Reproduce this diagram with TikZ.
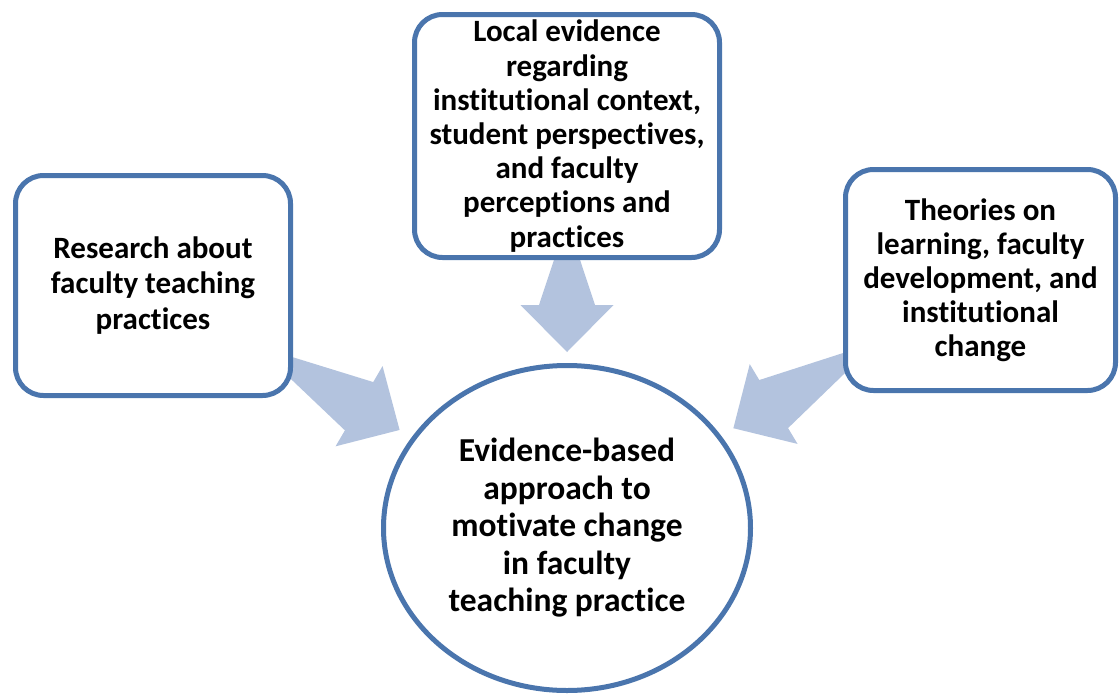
\documentclass[tikz,border=0pt]{standalone}
\usepackage{fontspec}
\setmainfont{Carlito}[Ligatures=NoCommon]
\usetikzlibrary{calc,shapes.geometric}

\definecolor{edgeblue}{HTML}{4A75AD}
\definecolor{flowblue}{HTML}{B3C3DE}

\tikzset{
  srcbox/.style={draw=edgeblue, line width=5pt, rounded corners=28pt,
    fill=white, align=center, inner sep=0pt},
  goal/.style={ellipse, draw=edgeblue, line width=5pt, fill=white,
    align=center, inner sep=0pt},
  flow/.style={fill=flowblue},
}

% broad block arrow from node #1 toward node #2, tip at #3 from #2's centre
\newcommand\blockflow[3]{%
  \coordinate (bf-t) at (#1.center);
  \coordinate (bf-h) at ($(#2.center)!#3!(#1.center)$);
  \coordinate (bf-b) at ($(bf-h)!47pt!(bf-t)$);
  \fill[flow] ($(bf-t)!28pt!90:(bf-h)$) -- ($(bf-b)!28pt!90:(bf-t)$)
    -- ($(bf-b)!46.5pt!90:(bf-t)$) -- (bf-h)
    -- ($(bf-b)!46.5pt!-90:(bf-t)$) -- ($(bf-b)!28pt!-90:(bf-t)$)
    -- ($(bf-t)!28pt!-90:(bf-h)$) -- cycle;
}

\begin{document}
\begin{tikzpicture}[x=1pt, y=-1pt]
\useasboundingbox (0,0) rectangle (1120,697);

% node geometry
\path
  (153,285.5)   coordinate (p-res)
  (567,136)     coordinate (p-loc)
  (980.5,280)   coordinate (p-the)
  (567,528)     coordinate (p-goal);

% invisible placeholders that fix the anchors used by the arrows
\node[goal, draw=none, fill=none, minimum width=367pt, minimum height=325pt] (goal) at (p-goal) {};
\node[srcbox, draw=none, fill=none, minimum width=275pt, minimum height=220pt] (res) at (p-res) {};
\node[srcbox, draw=none, fill=none, minimum width=305pt, minimum height=243pt] (loc) at (p-loc) {};
\node[srcbox, draw=none, fill=none, minimum width=270pt, minimum height=221pt] (the) at (p-the) {};

% block arrows
\blockflow{res}{goal}{194pt}
\blockflow{loc}{goal}{176pt}
\blockflow{the}{goal}{194pt}

% source boxes
\node[srcbox, minimum width=275pt, minimum height=220pt,
  font=\bfseries\fontsize{31}{35.5}\selectfont] (resbox) at (res.center)
  {Research about\\faculty teaching\\practices};
\node[srcbox, minimum width=305pt, minimum height=243pt,
  font=\bfseries\fontsize{31}{34.2}\selectfont] (locbox) at (loc.center)
  {Local evidence\\regarding\\institutional context,\\student perspectives,\\and faculty\\perceptions and\\practices};
\node[srcbox, minimum width=270pt, minimum height=221pt,
  font=\bfseries\fontsize{31}{34}\selectfont] (thebox) at (the.center)
  {Theories on\\learning, faculty\\development, and\\institutional\\change};

% target
\node[goal, minimum width=367pt, minimum height=325pt,
  font=\bfseries\fontsize{33.5}{37.5}\selectfont] (goalbox) at (goal.center)
  {Evidence-based\\approach to\\motivate change\\in faculty\\teaching practice};
\end{tikzpicture}
\end{document}
